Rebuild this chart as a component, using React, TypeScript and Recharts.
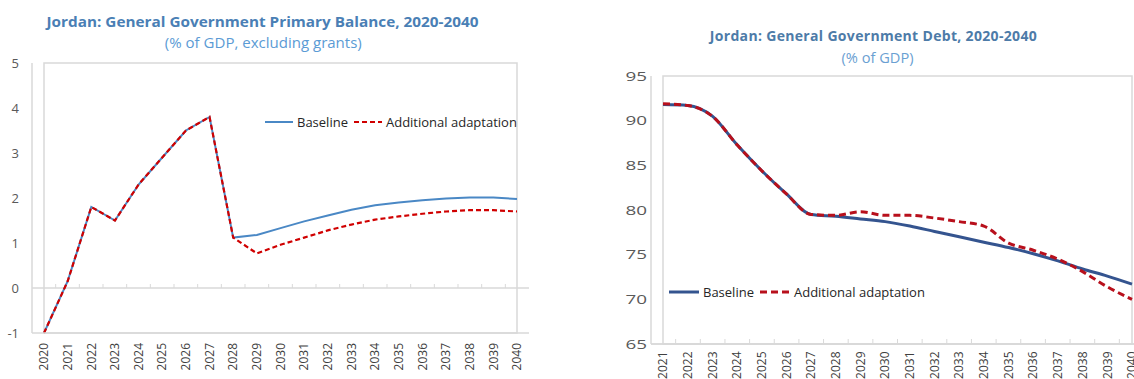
import React from 'react';
import { LineChart, Line, XAxis, YAxis, ReferenceLine, ReferenceArea, Legend } from 'recharts';

// ---------- Data: Primary balance (left chart) ----------
const balanceYears = ['2020', '2021', '2022', '2023', '2024', '2025', '2026', '2027', '2028', '2029', '2030',
  '2031', '2032', '2033', '2034', '2035', '2036', '2037', '2038', '2039', '2040'];
const balanceBaseline = [-1.0, 0.15, 1.8, 1.5, 2.3, 2.9, 3.5, 3.8, 1.12, 1.18, 1.33,
  1.48, 1.61, 1.74, 1.84, 1.9, 1.95, 1.99, 2.01, 2.01, 1.98];
const balanceAdaptation = [-1.0, 0.15, 1.8, 1.5, 2.3, 2.9, 3.5, 3.8, 1.12, 0.77, 0.96,
  1.12, 1.28, 1.41, 1.52, 1.59, 1.65, 1.7, 1.73, 1.73, 1.7];
const balanceTicks = [-1, 0, 1, 2, 3, 4, 5];

// ---------- Data: Debt (right chart) ----------
const debtYears = ['2021', '2022', '2023', '2024', '2025', '2026', '2027', '2028', '2029', '2030',
  '2031', '2032', '2033', '2034', '2035', '2036', '2037', '2038', '2039', '2040'];
const debtBaseline = [91.8, 91.7, 90.5, 87.3, 84.4, 81.8, 79.5, 79.3, 79.0, 78.7,
  78.2, 77.6, 77.0, 76.4, 75.8, 75.1, 74.3, 73.4, 72.6, 71.7];
const debtAdaptation = [91.9, 91.7, 90.5, 87.3, 84.4, 81.8, 79.5, 79.4, 79.8, 79.4,
  79.4, 79.1, 78.7, 78.2, 76.3, 75.5, 74.5, 73.1, 71.4, 70.0];
const debtTicks = [65, 70, 75, 80, 85, 90, 95];

const seriesKeys = ['baseline', 'adaptation'];
const seriesNames: Record<string, string> = { baseline: 'Baseline', adaptation: 'Additional adaptation' };

const balanceData = balanceYears.map((year, i) => ({
  year,
  baseline: balanceBaseline[i],
  adaptation: balanceAdaptation[i],
}));
const debtData = debtYears.map((year, i) => ({
  year,
  baseline: debtBaseline[i],
  adaptation: debtAdaptation[i],
}));

const FONT = '"Open Sans", "Noto Sans", sans-serif';
const GRID = '#d9d9d9';

const leftStyles: Record<string, any> = {
  baseline: { stroke: '#4a88c5', strokeWidth: 2, dash: undefined },
  adaptation: { stroke: '#d00000', strokeWidth: 2.2, dash: '5 3' },
};
const rightStyles: Record<string, any> = {
  baseline: { stroke: '#34548f', strokeWidth: 3, dash: undefined },
  adaptation: { stroke: '#b8101c', strokeWidth: 3, dash: '7 4' },
};

const RotatedTick = (props: any) => {
  const { x, y, payload, gap } = props;
  return (
    <text
      transform={`translate(${x},${y + gap}) rotate(-90)`}
      textAnchor="end"
      dy="0.35em"
      fontSize={12}
      fill="#404040"
      fontFamily={FONT}
    >
      {payload.value}
    </text>
  );
};

const WideYTick = (props: any) => {
  const { x, y, payload } = props;
  return (
    <text
      transform={`translate(${x},${y}) scale(1.45,1)`}
      textAnchor="end"
      dy="0.35em"
      fontSize={13}
      fill="#595959"
      fontFamily={FONT}
    >
      {payload.value}
    </text>
  );
};

const makeTickedLine = (count: number, len: number) => (props: any) => {
  const { x1, y1, x2, y2 } = props;
  const step = (x2 - x1) / count;
  const marks = [];
  for (let i = 1; i < count; i++) {
    const xx = x1 + step * i;
    marks.push(<line key={i} x1={xx} x2={xx} y1={y1} y2={y1 - len} stroke={GRID} strokeWidth={1} />);
  }
  return (
    <g>
      <line x1={x1} y1={y1} x2={x2} y2={y2} stroke={GRID} strokeWidth={1.5} />
      {marks}
    </g>
  );
};

const makeLegend = (styles: Record<string, any>, sampleW: number) => (props: any) => {
  const items = [...(props.payload || [])].sort(
    (a: any, b: any) => seriesKeys.indexOf(a.dataKey) - seriesKeys.indexOf(b.dataKey)
  );
  return (
    <div style={{ display: 'flex', alignItems: 'center', fontFamily: FONT, fontSize: 13, color: '#262626', whiteSpace: 'nowrap', lineHeight: '18px' }}>
      {items.map((p: any, i: number) => {
        const st = styles[p.dataKey];
        return (
          <div key={i} style={{ display: 'flex', alignItems: 'center', marginRight: 6 }}>
            <svg width={sampleW} height={8} style={{ display: 'block' }}>
              <line x1={0} y1={4} x2={sampleW} y2={4} stroke={st.stroke} strokeWidth={st.strokeWidth} strokeDasharray={st.dash} />
            </svg>
            <span style={{ marginLeft: 4 }}>{p.value}</span>
          </div>
        );
      })}
    </div>
  );
};

const Titles = () => (
  <svg width={1134} height={379} style={{ position: 'absolute', left: 0, top: 0, pointerEvents: 'none' }}>
    <text x={262.5} y={26.5} textAnchor="middle" fontFamily={FONT} fontWeight={700} fontSize={15} fill="#4a7fb5" textLength={432} lengthAdjust="spacingAndGlyphs">
      Jordan: General Government Primary Balance, 2020-2040
    </text>
    <text x={263.3} y={48} textAnchor="middle" fontFamily={FONT} fontSize={14.5} fill="#5b9bd5" textLength={197} lengthAdjust="spacingAndGlyphs">
      (% of GDP, excluding grants)
    </text>
    <text x={873.3} y={41} textAnchor="middle" fontFamily={FONT} fontWeight={700} fontSize={14} fill="#4d7ba8" textLength={327} lengthAdjust="spacing">
      Jordan: General Government Debt, 2020-2040
    </text>
    <text x={877.5} y={62.5} textAnchor="middle" fontFamily={FONT} fontSize={14} fill="#6aa0d2" textLength={72} lengthAdjust="spacingAndGlyphs">
      (% of GDP)
    </text>
  </svg>
);

export default function App() {
  return (
    <div style={{ position: 'fixed', left: 0, top: 0, width: 1134, height: 379, overflow: 'hidden', background: '#fff' }}>
      {/* Left chart */}
      <div style={{ position: 'absolute', left: 0, top: 0 }}>
        <LineChart width={540} height={379} data={balanceData} margin={{ top: 63, right: 11, left: 0, bottom: 0 }}>
          <ReferenceArea y1={balanceTicks[0]} y2={balanceTicks[balanceTicks.length - 1]} fill="none" stroke={GRID} strokeWidth={1.5} />
          <XAxis
            dataKey="year"
            padding={{ left: 12, right: 12 }}
            height={46}
            interval={0}
            tickSize={0}
            tickMargin={0}
            tickLine={false}
            axisLine={{ stroke: GRID, strokeWidth: 1.5 }}
            tick={(p: any) => <RotatedTick {...p} gap={10} />}
          />
          <YAxis
            domain={[balanceTicks[0], balanceTicks[balanceTicks.length - 1]]}
            ticks={balanceTicks}
            width={32}
            tickSize={0}
            tickMargin={13}
            tickLine={false}
            axisLine={{ stroke: GRID, strokeWidth: 1.5 }}
            tick={{ fontSize: 13, fill: '#595959', fontFamily: FONT }}
          />
          <ReferenceLine y={0} shape={makeTickedLine(balanceYears.length, 4)} />
          <Legend
            layout="horizontal"
            verticalAlign="middle"
            align="center"
            wrapperStyle={{ left: 265, top: 113, width: 'auto' }}
            content={makeLegend(leftStyles, 28)}
          />
          <Line
            type="linear"
            dataKey="baseline"
            name={seriesNames.baseline}
            stroke={leftStyles.baseline.stroke}
            strokeWidth={leftStyles.baseline.strokeWidth}
            dot={false}
            activeDot={false}
            isAnimationActive={false}
          />
          <Line
            type="linear"
            dataKey="adaptation"
            name={seriesNames.adaptation}
            stroke={leftStyles.adaptation.stroke}
            strokeWidth={leftStyles.adaptation.strokeWidth}
            strokeDasharray={leftStyles.adaptation.dash}
            dot={false}
            activeDot={false}
            isAnimationActive={false}
          />
        </LineChart>
      </div>

      {/* Right chart */}
      <div style={{ position: 'absolute', left: 580, top: 0 }}>
        <LineChart width={580} height={379} data={debtData} margin={{ top: 76, right: 16, left: 0, bottom: 0 }}>
          <ReferenceArea y1={debtTicks[0]} y2={debtTicks[debtTicks.length - 1]} fill="none" stroke={GRID} strokeWidth={1.5} />
          <XAxis
            dataKey="year"
            padding={{ left: 12, right: 12 }}
            height={35}
            interval={0}
            tickSize={0}
            tickMargin={0}
            tickLine={false}
            axisLine={{ stroke: GRID, strokeWidth: 1.5 }}
            tick={(p: any) => <RotatedTick {...p} gap={7.5} />}
          />
          <YAxis
            domain={[debtTicks[0], debtTicks[debtTicks.length - 1]]}
            ticks={debtTicks}
            width={71}
            tickSize={0}
            tickMargin={4}
            tickLine={false}
            axisLine={{ stroke: GRID, strokeWidth: 1.5 }}
            tick={(p: any) => <WideYTick {...p} />}
          />
          <ReferenceLine y={debtTicks[0]} shape={makeTickedLine(debtYears.length, 5)} />
          <Legend
            layout="horizontal"
            verticalAlign="middle"
            align="center"
            wrapperStyle={{ left: 89, top: 283, width: 'auto' }}
            content={makeLegend(rightStyles, 30)}
          />
          <Line
            type="monotone"
            dataKey="baseline"
            name={seriesNames.baseline}
            stroke={rightStyles.baseline.stroke}
            strokeWidth={rightStyles.baseline.strokeWidth}
            dot={false}
            activeDot={false}
            isAnimationActive={false}
          />
          <Line
            type="monotone"
            dataKey="adaptation"
            name={seriesNames.adaptation}
            stroke={rightStyles.adaptation.stroke}
            strokeWidth={rightStyles.adaptation.strokeWidth}
            strokeDasharray={rightStyles.adaptation.dash}
            dot={false}
            activeDot={false}
            isAnimationActive={false}
          />
        </LineChart>
      </div>

      <Titles />
    </div>
  );
}
